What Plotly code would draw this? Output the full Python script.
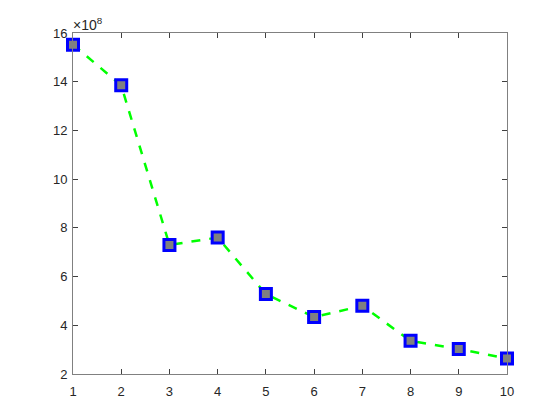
import plotly.graph_objects as go

x_vals = [1, 2, 3, 4, 5, 6, 7, 8, 9, 10]
y_vals = [15.52, 13.85, 7.3, 7.6, 5.28, 4.34, 4.8, 3.36, 3.03, 2.64]  # in units of 1e8
x_ticks = [1, 2, 3, 4, 5, 6, 7, 8, 9, 10]
y_ticks = [2, 4, 6, 8, 10, 12, 14, 16]

fig = go.Figure()
fig.add_trace(go.Scatter(
    x=x_vals, y=y_vals, mode="lines+markers",
    line=dict(color="#00ff00", width=2.5, dash="dash"),
    marker=dict(symbol="square", size=11, color="#808080",
                line=dict(color="#0000ff", width=3)),
    cliponaxis=False, showlegend=False,
))

axis_common = dict(
    showgrid=False, zeroline=False, showline=True, linecolor="#808080",
    linewidth=1, mirror="ticks", ticks="inside", ticklen=5, tickcolor="#404040",
    tickfont=dict(family="Liberation Sans, Arial", size=13, color="#262626"),
)
fig.update_xaxes(range=[1, 10], tickvals=x_ticks, ticklabelstandoff=5, **axis_common)
fig.update_yaxes(range=[2, 16], tickvals=y_ticks, ticklabelstandoff=2, **axis_common)

fig.add_annotation(
    x=0, y=1, xref="paper", yref="paper", xanchor="left", yanchor="bottom",
    text="×10<sup>8</sup>", showarrow=False, xshift=-2, yshift=-2,
    font=dict(family="Liberation Sans, Arial", size=14, color="#262626"),
)

fig.update_layout(
    width=544, height=404, plot_bgcolor="white", paper_bgcolor="white",
    margin=dict(l=65, r=45, t=25, b=38),
)
fig.write_html("out.html")
